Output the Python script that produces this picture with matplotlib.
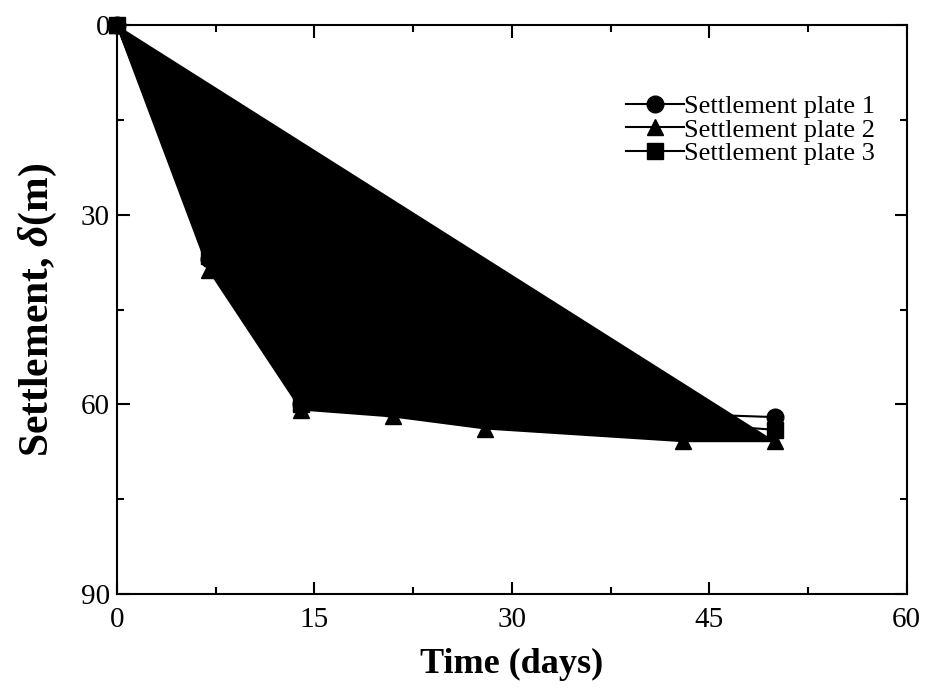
import matplotlib
matplotlib.use("Agg")
import matplotlib.pyplot as plt
from matplotlib.ticker import MultipleLocator

plt.rcParams['font.family'] = ['Liberation Serif', 'DejaVu Serif']
plt.rcParams['mathtext.fontset'] = 'custom'
plt.rcParams['mathtext.rm'] = 'Liberation Serif'
plt.rcParams['mathtext.it'] = 'Liberation Serif:bold:italic'


## data

days = [0, 7, 14, 21, 28, 43, 50]
plate1 = [0, 37.0, 60.0, 60.5, 61.0, 61.5, 62.0]
plate2 = [0, 38.8, 60.8, 61.9, 63.8, 65.8, 65.8]
plate3 = [0, 36.5, 60.0, 60.5, 61.5, 63.0, 64.0]

labels = ['Settlement plate 1', 'Settlement plate 2', 'Settlement plate 3']
markers = ['o', '^', 's']


## plot

fig = plt.figure(figsize=(9.28, 6.91), dpi=100)
ax = fig.add_axes([0.126, 0.14, 0.851, 0.824])

# closed black region under plate 2
ax.fill(days, plate2, color='k', lw=0)

for series, lab, mk in zip([plate1, plate2, plate3], labels, markers):
	ax.plot(days, series, color='k', lw=1.5, marker=mk, markersize=12, label=lab, clip_on=False)

ax.set_xlim(0, 60)
ax.set_ylim(90, 0)
ax.xaxis.set_major_locator(MultipleLocator(15))
ax.xaxis.set_minor_locator(MultipleLocator(7.5))
ax.yaxis.set_major_locator(MultipleLocator(30))
ax.yaxis.set_minor_locator(MultipleLocator(15))
ax.tick_params(which='both', direction='in', top=True, right=True, width=1.5, labelsize=21)
ax.tick_params(axis='x', pad=9)
ax.tick_params(axis='y', pad=5)
ax.tick_params(which='major', length=9)
ax.tick_params(which='minor', length=5)
for sp in ax.spines.values():
	sp.set_linewidth(1.5)

ax.set_xlabel('Time (days)', fontsize=26, fontweight='bold', labelpad=11)
ax.set_ylabel(r'Settlement, $\delta$(m)', fontsize=30, fontweight='bold', labelpad=16)

ax.legend(loc='upper right', bbox_to_anchor=(0.983, 0.91), frameon=False, fontsize=19,
	handlelength=2.2, handletextpad=0.0, labelspacing=0.0, borderpad=0.2)

fig.savefig('out.png', dpi=100)
